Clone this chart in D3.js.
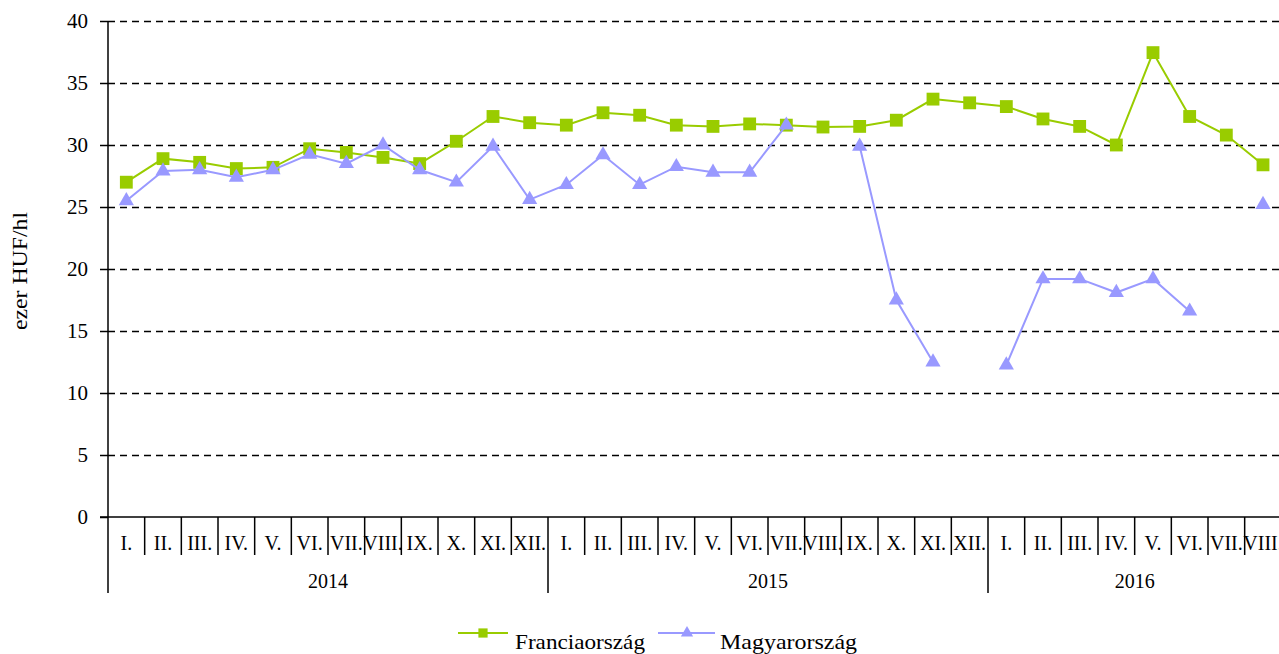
<!DOCTYPE html>
<html>
<head>
<meta charset="utf-8">
<style>
    body { margin: 0; background: #fff; }
    svg, svg text { font-family: "Liberation Serif", "Times New Roman", Times, "DejaVu Serif", serif; }
    svg { display: block; }
    .grid line { stroke: #000; stroke-width: 1.6; stroke-dasharray: 7,5; }
    .grid .domain { display: none; }
</style>
</head>
<body>
<script src="https://d3js.org/d3.v7.min.js"></script>
<script>

    // month labels, years and how many months each year has
    var monthNames = ["I.", "II.", "III.", "IV.", "V.", "VI.", "VII.", "VIII.", "IX.", "X.", "XI.", "XII."];
    var years = ["2014", "2015", "2016"];
    var monthsPerYear = [12, 12, 8];

    // ezer HUF/hl
    var france = [27.0, 28.9, 28.6, 28.1, 28.2, 29.7, 29.4, 29.0, 28.5, 30.3, 32.3, 31.8,
                  31.6, 32.6, 32.4, 31.6, 31.5, 31.7, 31.6, 31.45, 31.5, 32.0, 33.7, 33.4,
                  33.1, 32.1, 31.5, 30.0, 37.45, 32.3, 30.8, 28.4];
    var hungary = [25.5, 27.9, 28.0, 27.4, 28.0, 29.25, 28.5, 30.0, 28.0, 27.0, 29.9, 25.6,
                   26.8, 29.2, 26.8, 28.25, 27.8, 27.8, 31.6, null, 29.9, 17.5, 12.5, null,
                   12.25, 19.2, 19.2, 18.1, 19.2, 16.6, null, 25.2];

    var yTicks = [0, 5, 10, 15, 20, 25, 30, 35, 40];
    var seriesNames = ["Franciaország", "Magyarország"];

    var W = 1279, H = 654;
    var plotLeft = 108, plotTop = 21, plotBottom = 517;
    var step = 440 / 12;
    var serif = '"Liberation Serif", "Times New Roman", Times, "DejaVu Serif", serif';

    // build category keys "year-month"
    var cats = [];
    years.forEach(function(yr, yi) {
        for (var m = 0; m < monthsPerYear[yi]; m++) cats.push({ key: yr + "-" + m, year: yr, label: monthNames[m] });
    });

    var x = d3.scaleBand()
        .domain(cats.map(function(d) { return d.key; }))
        .range([plotLeft, plotLeft + step * cats.length]);
    var y = d3.scaleLinear().domain([0, 40]).range([plotBottom, plotTop]);

    var svg = d3.select("body").append("svg")
        .attr("width", W).attr("height", H)
        .attr("font-family", serif);

    // horizontal gridlines
    svg.append("g")
        .attr("class", "grid")
        .attr("transform", "translate(" + plotLeft + ",0)")
        .call(d3.axisRight(y).tickValues(yTicks.slice(1)).tickSize(x.range()[1] - plotLeft).tickFormat(""));

    // y axis
    var yAxis = svg.append("g")
        .attr("transform", "translate(" + plotLeft + ",0)")
        .call(d3.axisLeft(y).tickValues(yTicks).tickSize(8).tickPadding(12));
    yAxis.attr("font-family", serif).attr("font-size", 21);
    yAxis.select(".domain").remove();
    yAxis.selectAll("line").attr("stroke", "#000").attr("stroke-width", 1.5);
    yAxis.selectAll("text").attr("fill", "#000");

    svg.append("line")
        .attr("x1", plotLeft).attr("x2", plotLeft)
        .attr("y1", plotTop).attr("y2", 593)
        .attr("stroke", "#000").attr("stroke-width", 1.5);

    // x axis baseline
    svg.append("line")
        .attr("x1", plotLeft - 8).attr("x2", x.range()[1])
        .attr("y1", plotBottom).attr("y2", plotBottom)
        .attr("stroke", "#000").attr("stroke-width", 1.5);

    // month separators, longer ones at year boundaries
    var xAxis = svg.append("g");
    xAxis.selectAll("line.sep")
        .data(cats.slice(1))
        .enter().append("line")
        .attr("x1", function(d) { return x(d.key); })
        .attr("x2", function(d) { return x(d.key); })
        .attr("y1", plotBottom)
        .attr("y2", function(d) { return d.label === "I." ? 593 : 555; })
        .attr("stroke", "#000").attr("stroke-width", 1.5);

    xAxis.selectAll("text.month")
        .data(cats)
        .enter().append("text")
        .attr("x", function(d) { return x(d.key) + x.bandwidth() / 2; })
        .attr("y", 550)
        .attr("text-anchor", "middle")
        .style("font-size", "20px")
        .text(function(d) { return d.label; });

    xAxis.selectAll("text.year")
        .data(years)
        .enter().append("text")
        .attr("x", function(yr) {
            var ks = cats.filter(function(c) { return c.year === yr; });
            return (x(ks[0].key) + x(ks[ks.length - 1].key) + x.bandwidth()) / 2;
        })
        .attr("y", 588)
        .attr("text-anchor", "middle")
        .style("font-size", "20px")
        .text(function(d) { return d; });

    // y axis title
    svg.append("text")
        .attr("transform", "translate(27," + ((plotTop + plotBottom) / 2 + 2) + ") rotate(-90)")
        .attr("text-anchor", "middle")
        .attr("textLength", 118)
        .attr("lengthAdjust", "spacingAndGlyphs")
        .style("font-size", "20px")
        .text("ezer HUF/hl");

    var colors = ["#99CC00", "#9999FF"];
    var square = d3.symbol().type(d3.symbolSquare).size(165);
    var triangle = d3.symbol().type(d3.symbolTriangle).size(100);

    function drawSeries(values, color, sym) {
        var pts = values.map(function(v, i) { return { key: cats[i].key, v: v }; });
        var line = d3.line()
            .defined(function(d) { return d.v != null; })
            .x(function(d) { return x(d.key) + x.bandwidth() / 2; })
            .y(function(d) { return y(d.v); });
        svg.append("path")
            .datum(pts)
            .attr("fill", "none")
            .attr("stroke", color)
            .attr("stroke-width", 2)
            .attr("d", line);
        svg.append("g").selectAll("path")
            .data(pts.filter(function(d) { return d.v != null; }))
            .enter().append("path")
            .attr("d", sym)
            .attr("fill", color)
            .attr("transform", function(d) {
                return "translate(" + (x(d.key) + x.bandwidth() / 2) + "," + y(d.v) + ")";
            });
    }
    drawSeries(france, colors[0], square);
    drawSeries(hungary, colors[1], triangle);

    // legend
    var legendX = [458, 658];
    var legendLen = [130, 137];
    var legend = svg.selectAll("g.legend")
        .data(seriesNames)
        .enter().append("g")
        .attr("transform", function(d, i) { return "translate(" + legendX[i] + ",633)"; });
    legend.append("line")
        .attr("x1", 0).attr("x2", function(d, i) { return i === 0 ? 50 : 57; })
        .attr("stroke", function(d, i) { return colors[i]; })
        .attr("stroke-width", 2);
    legend.append("path")
        .attr("d", function(d, i) { return i === 0 ? d3.symbol().type(d3.symbolSquare).size(85)() : d3.symbol().type(d3.symbolTriangle).size(65)(); })
        .attr("fill", function(d, i) { return colors[i]; })
        .attr("transform", function(d, i) { return "translate(" + (i === 0 ? 25 : 29) + ",0)"; });
    legend.append("text")
        .attr("x", function(d, i) { return i === 0 ? 57 : 62; })
        .attr("y", 16)
        .attr("textLength", function(d, i) { return legendLen[i]; })
        .attr("lengthAdjust", "spacingAndGlyphs")
        .style("font-size", "21px")
        .text(function(d) { return d; });

</script>
</body>
</html>
